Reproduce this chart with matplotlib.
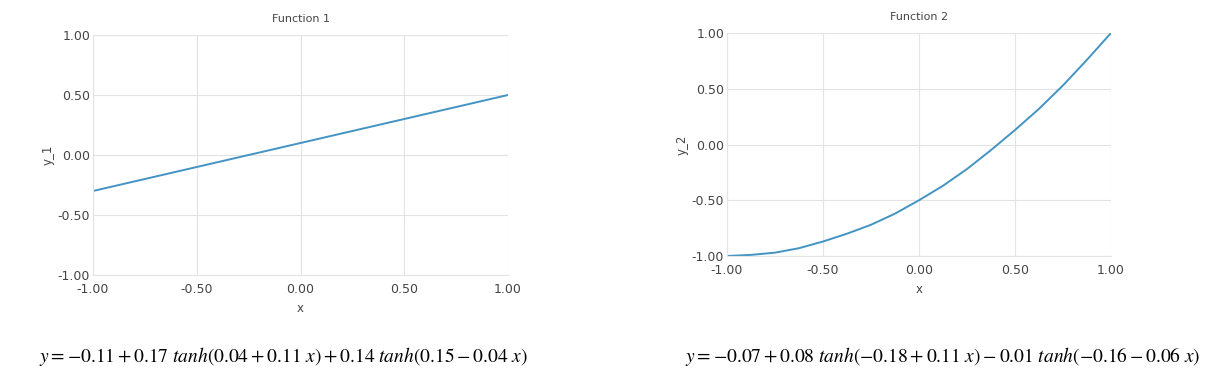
import matplotlib
matplotlib.use("Agg")
import matplotlib.pyplot as plt

plt.rcParams["font.family"] = ["DejaVu Sans"]
plt.rcParams["mathtext.fontset"] = "stix"

W, H = 1231, 380

# values
x_vals = [-1.00, -0.75, -0.50, -0.25, 0.00, 0.25, 0.50, 0.75, 1.00]
y1_vals = [-0.30, -0.20, -0.10, 0.00, 0.10, 0.20, 0.30, 0.40, 0.50]
x2_vals = [-1.00, -0.875, -0.75, -0.625, -0.50, -0.375, -0.25, -0.125, 0.00,
           0.125, 0.25, 0.375, 0.50, 0.625, 0.75, 0.875, 1.00]
y2_vals = [-1.00, -0.99, -0.97, -0.93, -0.87, -0.80, -0.72, -0.62, -0.50,
           -0.37, -0.22, -0.05, 0.13, 0.32, 0.53, 0.76, 1.00]
ticks = [-1.00, -0.50, 0.00, 0.50, 1.00]
tick_labels = ["-1.00", "-0.50", "0.00", "0.50", "1.00"]

panels = [
    dict(title="Function 1", ylabel="y_1", x=x_vals, y=y1_vals,
         box=(93, 35, 508, 275),
         eq=r"$y = -0.11 + 0.17\ tanh(0.04 + 0.11\ x) + 0.14\ tanh(0.15 - 0.04\ x)$",
         eq_x=283),
    dict(title="Function 2", ylabel="y_2", x=x2_vals, y=y2_vals,
         box=(727, 33, 1111, 256),
         eq=r"$y = -0.07 + 0.08\ tanh(-0.18 + 0.11\ x) - 0.01\ tanh(-0.16 - 0.06\ x)$",
         eq_x=943),
]

fig = plt.figure(figsize=(W / 100, H / 100), dpi=100, facecolor="white")
txt = "#444444"
grid = "#e3e3e3"

for p in panels:
    l, t, r, b = p["box"]
    ax = fig.add_axes([l / W, 1 - b / H, (r - l) / W, (b - t) / H])
    ax.plot(p["x"], p["y"], color="#4393c3", lw=1.4)
    ax.set_xlim(-1, 1); ax.set_ylim(-1, 1)
    ax.set_xticks(ticks); ax.set_xticklabels(tick_labels)
    ax.set_yticks(ticks); ax.set_yticklabels(tick_labels)
    ax.tick_params(length=0, labelsize=9, colors=txt, pad=2)
    ax.tick_params(axis="x", pad=6)
    ax.grid(True, color=grid, lw=0.8)
    for s in ax.spines.values():
        s.set_visible(False)
    ax.spines["left"].set_visible(True); ax.spines["left"].set_color(grid)
    ax.spines["bottom"].set_visible(True); ax.spines["bottom"].set_color(grid)
    ax.set_title(p["title"], fontsize=8, color=txt, pad=9)
    ax.set_xlabel("x", fontsize=8.5, color=txt, labelpad=4)
    ax.set_ylabel(p["ylabel"], fontsize=8.5, color=txt, labelpad=2)
    fig.text(p["eq_x"] / W, 1 - 357 / H, p["eq"], fontsize=14, ha="center",
             va="center", color="black")

fig.savefig("out.png", dpi=100, facecolor="white")
